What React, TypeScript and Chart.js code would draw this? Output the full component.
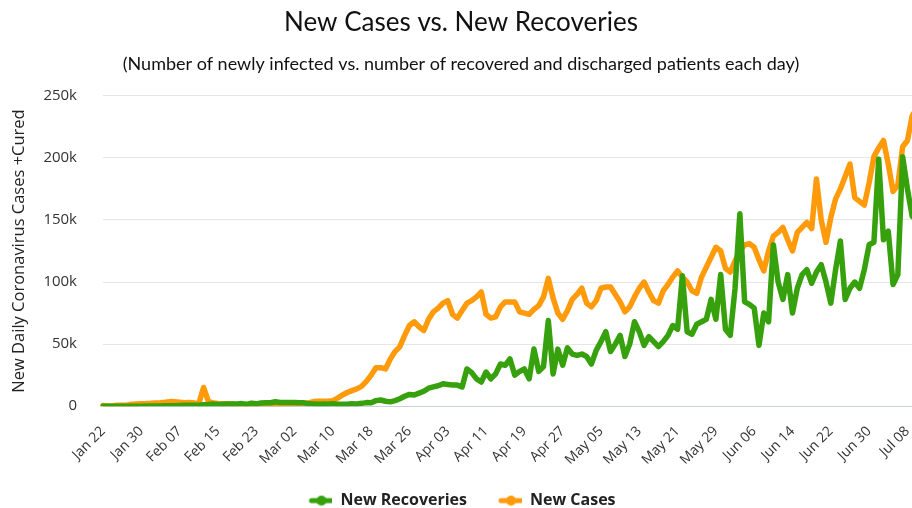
import { useEffect, useRef } from "react";
import { Chart, registerables } from "chart.js";

Chart.register(...registerables);

const TITLE = "New Cases vs. New Recoveries";
const SUBTITLE = "(Number of newly infected vs. number of recovered and discharged patients each day)";
const Y_TITLE = "New Daily Coronavirus Cases +Cured";

const MONTHS = ["Jan", "Feb", "Mar", "Apr", "May", "Jun", "Jul"];
const MONTH_DAYS = [31, 29, 31, 30, 31, 30, 31];
const START_DAY = 22;
const TICK_EVERY = 8;

const yTicks = [0, 50, 100, 150, 200, 250];

// values in thousands, one per day starting Jan 22
const newRecoveries = [
  0.0, 0.0, 0.0, 0.0, 0.0, 0.0, 0.0, 0.0, 0.0, 0.1,
  0.1, 0.2, 0.2, 0.3, 0.3, 0.4, 0.6, 0.7, 0.7, 0.7,
  0.8, 1.2, 1.4, 1.7, 1.4, 1.6, 1.8, 1.8, 1.8, 2.1,
  1.5, 2.4, 1.9, 2.6, 2.8, 2.8, 3.6, 3.0, 2.9, 2.9,
  2.9, 2.7, 2.7, 1.9, 1.8, 1.6, 1.7, 1.6, 1.9, 1.5,
  1.6, 1.5, 1.9, 1.8, 2.3, 2.9, 2.8, 4.5, 5.0, 4.0,
  3.5, 4.5, 6.0, 8.0, 9.5, 9.0, 10.5, 12.0, 14.5, 15.5,
  16.5, 18.0, 17.5, 17.0, 17.0, 15.5, 30.0, 27.0, 22.0, 19.5,
  27.5, 22.0, 26.0, 34.0, 33.0, 38.0, 25.0, 28.0, 30.0, 22.0,
  46.0, 28.0, 32.0, 69.0, 26.0, 46.0, 33.0, 47.0, 42.0, 41.0,
  42.0, 40.0, 34.0, 45.0, 52.0, 60.0, 44.0, 50.0, 57.0, 40.0,
  50.0, 68.0, 60.0, 49.0, 56.0, 52.0, 48.0, 52.0, 57.0, 65.0,
  62.0, 105.0, 60.0, 58.0, 66.0, 68.0, 70.0, 86.0, 70.0, 106.0,
  62.0, 57.0, 95.0, 155.0, 84.0, 82.0, 79.0, 49.0, 75.0, 68.0,
  130.0, 100.0, 86.0, 106.0, 75.0, 95.0, 106.0, 110.0, 99.0, 108.0,
  114.0, 100.0, 83.0, 110.0, 133.0, 86.0, 95.0, 100.0, 95.0, 110.0,
  130.0, 132.0, 199.0, 134.0, 141.0, 98.0, 106.0, 201.0, 175.0, 153.0,
  150.0,
];

const newCases = [
  0.6, 0.1, 0.3, 0.7, 0.7, 0.8, 1.6, 1.8, 2.0, 2.1,
  2.3, 2.6, 2.8, 3.2, 3.7, 3.6, 3.2, 2.8, 3.0, 2.6,
  2.0, 15.1, 4.0, 2.6, 2.1, 2.0, 1.9, 1.8, 1.2, 0.8,
  1.0, 1.0, 0.9, 0.8, 0.9, 1.0, 1.3, 1.4, 1.8, 2.0,
  1.9, 2.4, 2.3, 2.8, 3.7, 4.0, 3.9, 4.0, 4.5, 6.5,
  9.0, 11.0, 12.5, 14.0, 16.0, 20.0, 25.0, 31.0, 31.0, 30.0,
  38.0, 44.0, 48.0, 57.0, 65.0, 68.0, 64.0, 61.0, 70.0, 76.0,
  79.0, 83.0, 85.0, 74.0, 71.0, 77.0, 83.0, 85.0, 88.0, 92.0,
  74.0, 71.0, 72.0, 80.0, 84.0, 84.0, 84.0, 76.0, 75.0, 74.0,
  78.0, 81.0, 88.0, 103.0, 87.0, 75.0, 70.0, 77.0, 86.0, 90.0,
  95.0, 83.0, 80.0, 85.0, 95.0, 96.0, 96.0, 90.0, 84.0, 76.0,
  80.0, 88.0, 95.0, 100.0, 92.0, 85.0, 83.0, 93.0, 98.0, 104.0,
  109.0, 104.0, 100.0, 93.0, 91.0, 104.0, 112.0, 120.0, 128.0, 125.0,
  111.0, 108.0, 117.0, 125.0, 130.0, 131.0, 128.0, 118.0, 109.0, 125.0,
  137.0, 140.0, 144.0, 134.0, 125.0, 140.0, 144.0, 148.0, 143.0, 183.0,
  150.0, 132.0, 152.0, 167.0, 175.0, 185.0, 195.0, 168.0, 165.0, 162.0,
  180.0, 201.0, 208.0, 214.0, 195.0, 173.0, 178.0, 209.0, 214.0, 234.0,
  240.0,
];

const GREEN = "#36a10c";
const ORANGE = "#ff9a0a";

function buildDates(n: number): string[] {
  const out: string[] = [];
  let m = 0;
  let d = START_DAY;
  for (let i = 0; i < n; i++) {
    out.push(MONTHS[m] + " " + String(d).padStart(2, "0"));
    d++;
    if (d > MONTH_DAYS[m]) {
      d = 1;
      m++;
    }
  }
  return out;
}

const dates = buildDates(newCases.length);

function makeSymbol(color: string): HTMLCanvasElement {
  const c = document.createElement("canvas");
  c.width = 26;
  c.height = 12;
  const g = c.getContext("2d")!;
  g.strokeStyle = color;
  g.lineWidth = 5;
  g.lineCap = "round";
  g.beginPath();
  g.moveTo(5, 6);
  g.lineTo(25, 6);
  g.stroke();
  g.fillStyle = color;
  g.beginPath();
  g.arc(15, 6, 5, 0, Math.PI * 2);
  g.fill();
  return c;
}

export default function App() {
  const ref = useRef<HTMLCanvasElement | null>(null);

  useEffect(() => {
    if (!ref.current) return;
    const symbols = [makeSymbol(GREEN), makeSymbol(ORANGE)];
    const chart = new Chart(ref.current, {
      type: "line",
      data: {
        labels: dates,
        datasets: [
          {
            label: "New Recoveries",
            data: newRecoveries,
            borderColor: GREEN,
            backgroundColor: GREEN,
            borderWidth: 5.5,
            pointRadius: 0,
            tension: 0,
            borderJoinStyle: "round",
            borderCapStyle: "round",
          },
          {
            label: "New Cases",
            data: newCases,
            borderColor: ORANGE,
            backgroundColor: ORANGE,
            borderWidth: 5.5,
            pointRadius: 0,
            tension: 0,
            borderJoinStyle: "round",
            borderCapStyle: "round",
          },
        ],
      },
      options: {
        responsive: false,
        animation: false,
        layout: { padding: { left: 5, right: 9, top: 0, bottom: -10.6 } },
        plugins: {
          title: {
            display: true,
            text: TITLE,
            font: { family: "Lato", size: 26, weight: "normal" },
            color: "#111",
            padding: { top: 7, bottom: 7 },
          },
          subtitle: {
            display: true,
            text: SUBTITLE,
            font: { family: "Lato", size: 18, weight: "normal" },
            color: "#111",
            padding: { top: 8, bottom: 21 },
          },
          legend: {
            position: "bottom",
            labels: {
              usePointStyle: true,
              pointStyleWidth: 26,
              padding: 29,
              color: "#222",
              font: { family: "Open Sans", size: 16, weight: "bold" },
              generateLabels: (c: any) => {
                const items = (Chart.defaults.plugins.legend.labels as any).generateLabels(c);
                items.forEach((it: any, i: number) => {
                  it.pointStyle = symbols[i];
                });
                return items;
              },
            },
          },
          tooltip: { enabled: false },
        },
        scales: {
          x: {
            grid: { display: false },
            border: { display: true, color: "#ccd0d8", width: 1 },
            ticks: {
              autoSkip: false,
              maxRotation: 45,
              minRotation: 45,
              padding: 9,
              color: "#333",
              font: { family: "Open Sans", size: 14 },
              callback: (_v: any, i: number) => (i % TICK_EVERY === 0 ? dates[i] : ""),
            },
            afterFit: (s: any) => {
              s.paddingLeft = 0;
              s.paddingRight = 0;
              s.height = 57.4;
            },
          },
          y: {
            min: yTicks[0],
            max: yTicks[yTicks.length - 1],
            grid: { color: "#e6e6e6", drawTicks: false },
            border: { display: false },
            ticks: {
              stepSize: yTicks[1] - yTicks[0],
              padding: 26,
              color: "#333",
              font: { family: "Open Sans", size: 15 },
              callback: (v: any) => (v === 0 ? "0" : v + "k"),
            },
            title: {
              display: true,
              text: Y_TITLE,
              color: "#222",
              font: { family: "Open Sans", size: 16.5 },
            },
            afterFit: (s: any) => {
              s.width = 98;
            },
          },
        },
      },
    });
    return () => chart.destroy();
  }, []);

  return (
    <div
      style={{
        position: "absolute",
        left: 0,
        top: 0,
        width: 912,
        height: 508,
        overflow: "hidden",
        background: "#fff",
      }}
    >
      <canvas ref={ref} width={926} height={508} style={{ display: "block" }} />
    </div>
  );
}
